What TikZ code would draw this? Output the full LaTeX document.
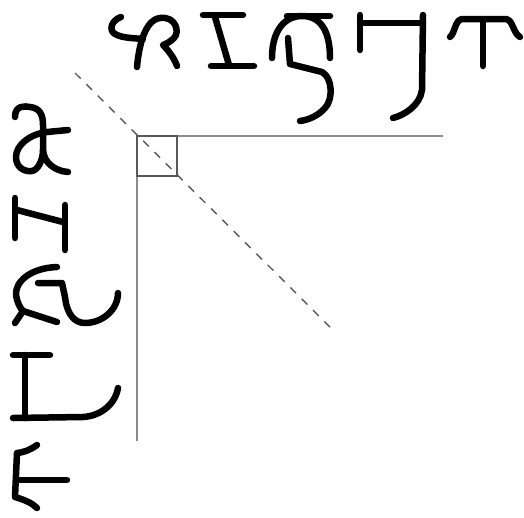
\documentclass[tikz,border=0pt]{standalone}
\usepackage{tikz}
\usetikzlibrary{arrows.meta}

\begin{document}
\begin{tikzpicture}[x=1pt,y=-1pt,
    glyph/.style={line width=6.5pt,line cap=round,line join=round},
    side/.style={gray!90,line width=1.4pt},
    bisect/.style={gray!70!black,line width=1.4pt,dash pattern=on 8pt off 8pt}]
            \useasboundingbox (0,0) rectangle (524,517);
            \coordinate (corner) at (137,136);
            \coordinate (hEnd) at (443,136);
            \coordinate (vEnd) at (137,441);
            \coordinate (sq) at (177,176);
            \coordinate (dStart) at (75,73);
            \coordinate (dEnd) at (333,330);
            % sides and the right angle mark
            \draw [side] (corner) -- (hEnd);
            \draw [side] (corner) -- (vEnd);
            \draw [side,gray!70!black] (corner) rectangle (sq);
            \draw [bisect] (dStart) -- (dEnd);
            % top word
            \draw [glyph] (121,17) .. controls (112,20) and (108,30) .. (115,34) .. controls (122,38) and (132,38) .. (143,39);
            \draw [glyph] (137,67) .. controls (139,45) and (145,20) .. (160,18) .. controls (176,16) and (180,32) .. (174,38) .. controls (170,42) and (166,44) .. (163,45) .. controls (170,52) and (175,60) .. (177,66);
            \draw [glyph] (203,15) -- (243,15);
            \draw [glyph] (215,17) -- (229,65);
            \draw [glyph] (211,66) -- (254,66);
            \draw [glyph] (272,58) .. controls (272,30) and (285,16) .. (302,16) .. controls (320,16) and (330,30) .. (330,58);
            \draw [glyph] (287,16) -- (330,16);
            \draw [glyph] (288,38) -- (290,64) -- (322,72) .. controls (333,78) and (333,100) .. (325,108) .. controls (318,116) and (308,120) .. (300,121);
            \draw [glyph] (360,15) -- (360,50);
            \draw [glyph] (360,23) -- (423,23);
            \draw [glyph] (423,15) -- (422,90) .. controls (420,105) and (405,115) .. (393,118);
            \draw [glyph] (450,37) .. controls (455,33) and (455,20) .. (462,19) -- (506,19) .. controls (513,20) and (513,33) .. (520,37);
            \draw [glyph] (483,21) -- (483,66);
            % left word
            \draw [glyph] (15,117) .. controls (15,105) and (25,106) .. (30,107) .. controls (40,108) and (43,115) .. (43,125) -- (43,150) .. controls (44,163) and (55,171) .. (68,172);
            \draw [glyph] (68,130) -- (47,132) .. controls (30,134) and (16,145) .. (16,157) .. controls (16,168) and (25,172) .. (32,171) .. controls (38,170) and (43,160) .. (43,150);
            \draw [glyph] (15,198) -- (15,238);
            \draw [glyph] (17,210) -- (63,222);
            \draw [glyph] (65,205) -- (65,250);
            \draw [glyph] (57,267) .. controls (30,268) and (15,282) .. (16,295) .. controls (17,302) and (20,308) .. (23,311) -- (57,322);
            \draw [glyph] (23,311) -- (15,323);
            \draw [glyph] (38,283) -- (62,283) -- (65,297) .. controls (67,315) and (75,323) .. (85,323) .. controls (102,323) and (118,310) .. (118,293);
            \draw [glyph] (13,355) -- (50,355);
            \draw [glyph] (25,355) -- (25,418);
            \draw [glyph] (13,418) -- (83,417) .. controls (100,416) and (115,405) .. (118,388);
            \draw [glyph] (37,445) .. controls (30,450) and (25,452) .. (17,453) -- (15,497) .. controls (25,500) and (32,503) .. (37,508);
            \draw [glyph] (17,480) -- (67,480);
        \end{tikzpicture}
\end{document}
